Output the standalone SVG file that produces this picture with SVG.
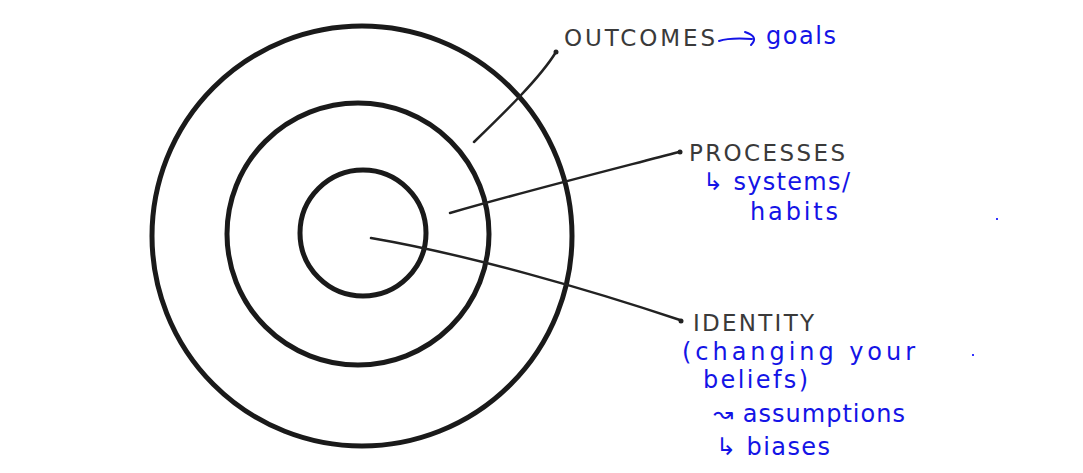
<svg xmlns="http://www.w3.org/2000/svg" width="1083" height="473" viewBox="0 0 1083 473">
<style>
.ring{fill:none;stroke:#1a1a1a;stroke-width:5}
.lead{fill:none;stroke:#222;stroke-width:2.5;stroke-linecap:round}
.lbl{font-family:"DejaVu Sans","Open Sans",sans-serif;font-size:23px;fill:#3a3a3a}
.hand{font-family:"DejaVu Sans",sans-serif;font-size:24px;fill:#1414e6}
.ink{fill:none;stroke:#1414e6;stroke-width:2;stroke-linecap:round;stroke-linejoin:round}
</style>
<rect width="1083" height="473" fill="#fff"/>
<g id="outer-ring"><circle class="ring" cx="362" cy="236" r="210"/></g>
<g id="middle-ring"><circle class="ring" cx="358" cy="234" r="131"/></g>
<g id="inner-ring"><circle class="ring" cx="363" cy="233" r="63"/></g>
<g id="connectors">
<path class="lead" d="M474,142 C505,112 540,78 556,52"/>
<circle cx="556" cy="52" r="2.5" fill="#222"/>
<path class="lead" d="M450,213 C530,190 610,170 679,152"/>
<circle cx="680" cy="152" r="2.5" fill="#222"/>
<path class="lead" d="M371,238 C470,255 590,290 680,320"/>
<circle cx="681" cy="321" r="2.5" fill="#222"/>
</g>
<g id="outcomes">
<text class="lbl" x="564" y="46" textLength="151" lengthAdjust="spacing">OUTCOMES</text>
<path class="ink" d="M719,41 C728,38 738,38 752,39 M745,32 C754,35 757,39 751,45"/>
<text class="hand" x="766" y="44" textLength="70" lengthAdjust="spacing">goals</text>
</g>
<g id="processes">
<text class="lbl" x="689" y="161" textLength="156" lengthAdjust="spacing">PROCESSES</text>
<text class="hand" x="703" y="190" textLength="147" lengthAdjust="spacing">↳ systems/</text>
<text class="hand" x="750" y="220" textLength="88" lengthAdjust="spacing">habits</text>
</g>
<g id="identity">
<text class="lbl" x="693" y="331" textLength="121" lengthAdjust="spacing">IDENTITY</text>
<text class="hand" x="682" y="360" textLength="233" lengthAdjust="spacing">(changing your</text>
<text class="hand" x="703" y="388" textLength="105" lengthAdjust="spacing">beliefs)</text>
<text class="hand" x="713" y="422" textLength="192" lengthAdjust="spacing">↝ assumptions</text>
<text class="hand" x="716" y="455" textLength="114" lengthAdjust="spacing">↳ biases</text>
</g>
<g id="specks">
<rect x="996" y="218" width="2" height="2" fill="#3333ff"/>
<rect x="972" y="354" width="2" height="2" fill="#3333ff"/>
</g>
</svg>
